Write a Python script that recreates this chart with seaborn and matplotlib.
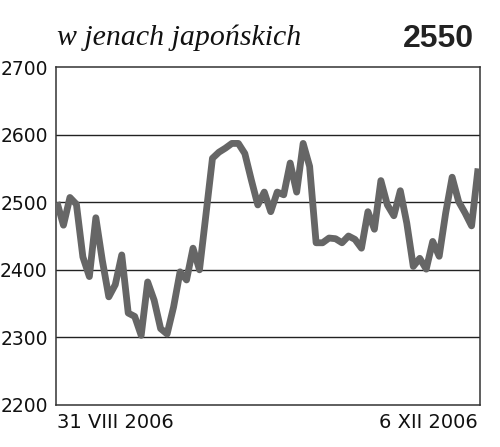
import matplotlib
matplotlib.use("Agg")
import matplotlib.pyplot as plt
import seaborn as sns
import pandas as pd

# trading-day index (31 VIII 2006 .. 6 XII 2006)
day = list(range(66))
price = [2500, 2466, 2507, 2497, 2419, 2390, 2477, 2414, 2360, 2378,
         2422, 2336, 2331, 2303, 2382, 2355, 2313, 2305, 2345, 2397,
         2385, 2432, 2400, 2482, 2565, 2574, 2580, 2587, 2587, 2572,
         2533, 2496, 2515, 2486, 2515, 2511, 2558, 2515, 2587, 2553,
         2440, 2440, 2447, 2446, 2440, 2450, 2445, 2432, 2486, 2460,
         2532, 2496, 2480, 2517, 2469, 2405, 2417, 2401, 2442, 2420,
         2484, 2537, 2501, 2484, 2465, 2550]
y_ticks = [2200, 2300, 2400, 2500, 2600, 2700]
x_tick_labels = ["31 VIII 2006", "6 XII 2006"]
title_text = "w jenach japońskich"
last_value = "2550"

df = pd.DataFrame({"day": day, "price": price})

sns.set_theme(style="white")
plt.rcParams['font.family'] = ['DejaVu Sans']

fig = plt.figure(figsize=(5.0, 4.47), dpi=100)
ax = fig.add_axes([0.112, 0.094, 0.848, 0.756])

for v in y_ticks[1:-1]:
    ax.axhline(v, color="#222222", lw=1.0, zorder=1)

sns.lineplot(data=df, x="day", y="price", ax=ax, color="#666666",
             linewidth=4.9, solid_joinstyle="round", solid_capstyle="butt", zorder=3)

ax.set_xlim(-0.15, 65.3)
ax.set_ylim(y_ticks[0], y_ticks[-1])
ax.set_yticks(y_ticks)
ax.set_yticklabels([str(v) for v in y_ticks], fontsize=13.5, color="#111111")
ax.set_xticks([day[0], day[-1]])
ax.set_xticklabels(x_tick_labels, fontsize=14, color="#111111")
xt = ax.get_xticklabels()
xt[0].set_horizontalalignment("left")
xt[1].set_horizontalalignment("right")
ax.tick_params(axis="both", length=0)
ax.tick_params(axis="y", pad=6)
ax.tick_params(axis="x", pad=6)
ax.set_xlabel("")
ax.set_ylabel("")
for s in ax.spines.values():
    s.set_visible(True)
    s.set_color("#333333")
    s.set_linewidth(1.1)

fig.text(0.114, 0.899, title_text, fontsize=21.5, fontstyle="italic",
         family=["Liberation Serif"], color="#111111", ha="left", va="baseline")
fig.text(0.947, 0.895, last_value, fontsize=23, fontweight="bold",
         family=["Liberation Sans"], color="#222222", ha="right", va="baseline")

fig.savefig("out.png", dpi=100, facecolor="white")
